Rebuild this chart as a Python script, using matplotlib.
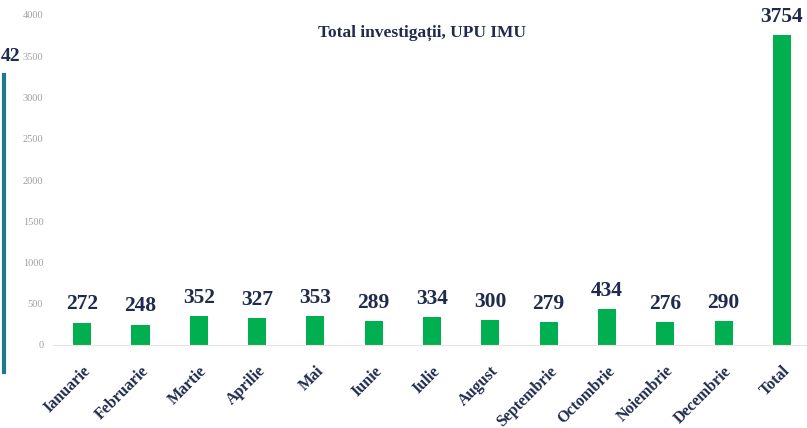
import matplotlib
matplotlib.use('Agg')
import matplotlib.pyplot as plt
from matplotlib.lines import Line2D

months = ['Ianuarie', 'Februarie', 'Martie', 'Aprilie', 'Mai', 'Iunie', 'Iulie',
          'August', 'Septembrie', 'Octombrie', 'Noiembrie', 'Decembrie', 'Total']
values = [272, 248, 352, 327, 353, 289, 334, 300, 279, 434, 276, 290, 3754]
yticks = [0, 500, 1000, 1500, 2000, 2500, 3000, 3500, 4000]

navy = '#1f2a4d'
green = '#00b050'

plt.rcParams['font.family'] = ['Liberation Serif', 'DejaVu Serif']

fig = plt.figure(figsize=(8.07, 4.28), dpi=100)
W, H = 807, 428
ax = fig.add_axes([53 / W, 83 / H, (807 - 53) / W, 330 / H])

x = list(range(len(months)))
ax.bar(x, values, width=0.31, color=green)

for xi, v in zip(x, values):
    ax.text(xi, v + 100, str(v), ha='center', va='bottom', fontsize=15.5,
            fontweight='bold', color=navy)

ax.set_xlim(-0.5, 12.43)
ax.set_ylim(0, 4000)
ax.set_yticks(yticks)
ax.set_yticklabels([str(t) for t in yticks], fontsize=7.5, color='#a0a0a0')
ax.set_xticks(x)
ax.set_xticklabels(months, rotation=45, ha='right', rotation_mode='anchor',
                   fontsize=11.5, fontweight='bold', color=navy)
for lbl in ax.get_xticklabels():
    lbl.set_x(lbl.get_position()[0])
ax.tick_params(axis='both', length=0)
ax.tick_params(axis='y', pad=7)
ax.tick_params(axis='x', pad=13)
for s in ['top', 'right', 'left']:
    ax.spines[s].set_visible(False)
ax.spines['bottom'].set_color('#f0e0e0')
ax.spines['bottom'].set_linewidth(0.8)

ax.set_title('Total investigații, UPU IMU', fontsize=12.5, fontweight='bold',
             color=navy, x=0.49, y=0.91)

# remnant of the neighbouring chart at the left edge
fig.add_artist(Line2D([3.5 / W, 3.5 / W], [1 - 75 / H, 1 - 372 / H],
                      transform=fig.transFigure, color='#1b7a8c', linewidth=3))
fig.text(0.5 / W, 1 - 57 / H, '42', fontsize=14, fontweight='bold', color=navy,
         ha='left', va='center')

fig.savefig('out.png', dpi=100)
